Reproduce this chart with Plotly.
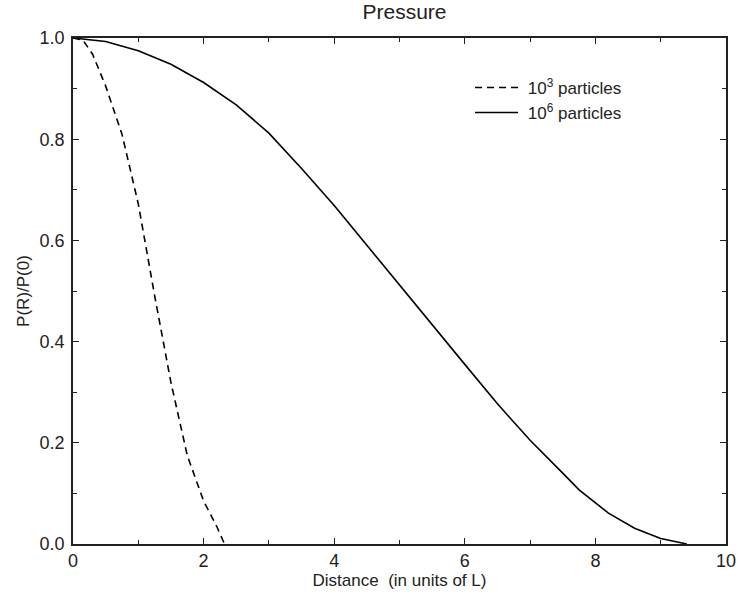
import plotly.graph_objects as go

# Dashed curve: 10^3 particles
x_1e3 = [0.0, 0.15, 0.3, 0.5, 0.75, 1.0, 1.25, 1.5, 1.75, 2.0, 2.2, 2.32]
p_1e3 = [1.0, 0.996, 0.968, 0.905, 0.810, 0.672, 0.491, 0.319, 0.175, 0.085, 0.035, 0.0]

# Solid curve: 10^6 particles
x_1e6 = [0.0, 0.5, 1.0, 1.5, 2.0, 2.5, 3.0, 3.5, 4.0, 4.5, 5.0, 5.5, 6.0, 6.5, 7.0, 7.5, 7.75, 8.2, 8.6, 9.0, 9.4]
p_1e6 = [1.0, 0.993, 0.975, 0.948, 0.912, 0.868, 0.812, 0.742, 0.669, 0.590, 0.512, 0.434, 0.355, 0.277, 0.205, 0.140, 0.107, 0.061, 0.031, 0.011, 0.0]

FONT = "Liberation Sans, Arial, Helvetica, sans-serif"

fig = go.Figure()
fig.add_trace(go.Scatter(x=x_1e3, y=p_1e3, mode="lines", name="\u00a010<sup>3</sup> particles",
                         line=dict(color="black", width=1.6, dash="7px,5px")))
fig.add_trace(go.Scatter(x=x_1e6, y=p_1e6, mode="lines", name="\u00a010<sup>6</sup> particles",
                         line=dict(color="black", width=1.6)))

axis_common = dict(showgrid=False, zeroline=False, showline=True, linecolor="#222",
                   linewidth=1.6, mirror="ticks", ticks="inside", tickcolor="#222",
                   tickwidth=1, ticklen=6, tickfont=dict(family=FONT, size=18, color="#222"))

fig.update_xaxes(range=[0, 10], dtick=2, tick0=0,
                 minor=dict(dtick=1, ticks="inside", ticklen=4, tickcolor="#222", showgrid=False),
                 title=dict(text="Distance  (in units of L)", font=dict(family=FONT, size=17, color="#222"), standoff=2),
                 **axis_common)
fig.update_yaxes(range=[0, 1], dtick=0.2, tick0=0, tickformat=".1f", ticklabelstandoff=3,
                 minor=dict(dtick=0.1, ticks="inside", ticklen=4, tickcolor="#222", showgrid=False),
                 title=dict(text="P(R)/P(0)", font=dict(family=FONT, size=17, color="#222"), standoff=6),
                 **axis_common)

fig.update_layout(
    width=746, height=598,
    margin=dict(l=73, r=10, t=38, b=54),
    paper_bgcolor="white", plot_bgcolor="white",
    title=dict(text="Pressure", x=(73 + 736) / 2 / 746, xanchor="center",
               y=1 - 12 / 598, yanchor="middle", yref="container",
               font=dict(family=FONT, size=21, color="#222")),
    legend=dict(x=0.608, y=0.937, xanchor="left", yanchor="top", bgcolor="rgba(0,0,0,0)",
                itemwidth=43, font=dict(family=FONT, size=17, color="#222"), tracegroupgap=0),
    showlegend=True,
)

fig.write_html("out.html", config={"displayModeBar": False},
               post_script="document.body.style.margin='0';document.body.style.overflow='hidden';")
